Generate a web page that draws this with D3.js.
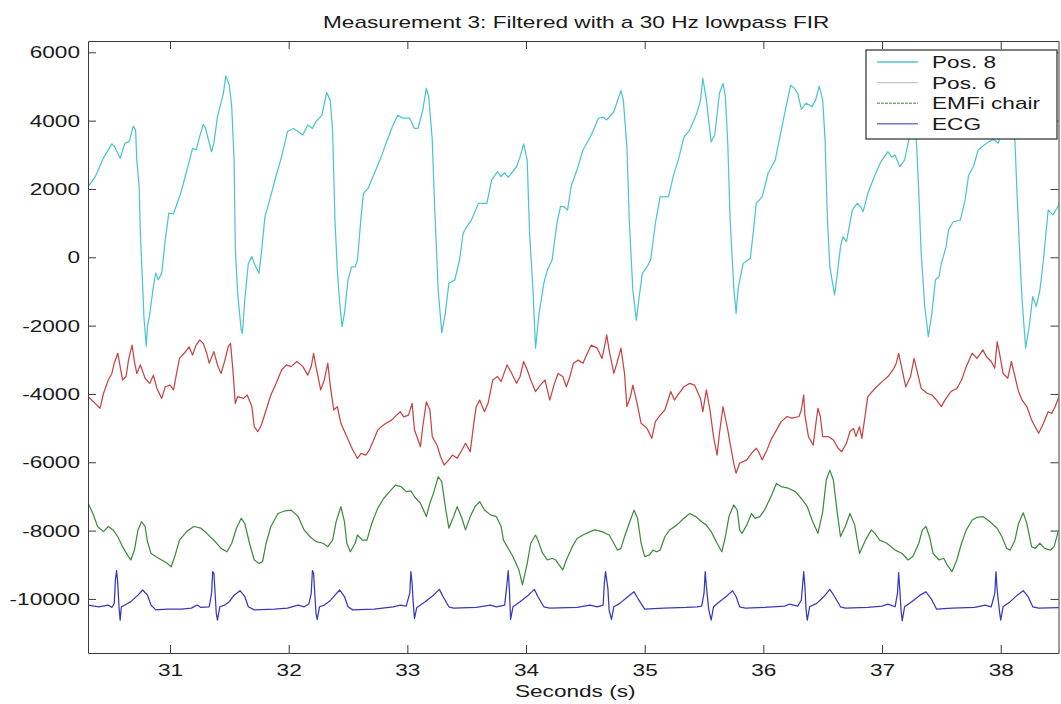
<!DOCTYPE html>
<html>
<head>
<meta charset="utf-8">
<script src="https://cdn.jsdelivr.net/npm/d3@7"></script>
<style>
  body { margin: 0; background: white; }
  svg { display: block; }
  text { font-family: "Liberation Sans", Arial, sans-serif; fill: #1a1a1a; }
</style>
</head>
<body>
<svg id="chart"></svg>
<script>

var xTicks = [31, 32, 33, 34, 35, 36, 37, 38];
var yTicks = [-10000, -8000, -6000, -4000, -2000, 0, 2000, 4000, 6000];
var seriesNames = ["Pos. 8", "Pos. 6", "EMFi chair", "ECG"];

var pos8 = [[30.31,2070],[30.37,2360],[30.44,2910],[30.51,3320],[30.53,3260],[30.58,2900],[30.62,3340],[30.65,3380],[30.66,3430],[30.69,3840],[30.71,3730],[30.72,2850],[30.74,2070],[30.75,710],[30.77,-860],[30.78,-1740],[30.80,-2600],[30.81,-2030],[30.83,-1640],[30.86,-860],[30.88,-460],[30.90,-660],[30.93,-470],[30.96,510],[30.99,1290],[31.03,1270],[31.06,1580],[31.09,1870],[31.15,2650],[31.19,3190],[31.22,3140],[31.25,3530],[31.28,3890],[31.30,3770],[31.35,3090],[31.37,3340],[31.40,4120],[31.45,4800],[31.47,5310],[31.50,5040],[31.52,4410],[31.54,2850],[31.55,310],[31.57,-1050],[31.60,-2130],[31.61,-2230],[31.63,-1250],[31.66,-180],[31.69,20],[31.71,-180],[31.75,-470],[31.77,120],[31.80,1190],[31.84,1680],[31.90,2460],[31.94,2940],[31.99,3680],[32.04,3770],[32.08,3680],[32.12,3580],[32.16,3870],[32.20,3770],[32.23,3970],[32.28,4160],[32.32,4820],[32.35,4600],[32.37,3730],[32.39,1090],[32.41,-370],[32.43,-1350],[32.45,-2030],[32.47,-1640],[32.50,-660],[32.53,-280],[32.56,-280],[32.58,-80],[32.61,1190],[32.63,1870],[32.67,2020],[32.71,2360],[32.78,2940],[32.82,3340],[32.88,3870],[32.92,4160],[32.96,4070],[33.02,4070],[33.06,3770],[33.09,3770],[33.13,4310],[33.16,4950],[33.18,4700],[33.21,3430],[33.23,1480],[33.26,-960],[33.29,-2210],[33.32,-1640],[33.35,-760],[33.40,-660],[33.44,-80],[33.47,700],[33.50,890],[33.54,1090],[33.60,1580],[33.67,1580],[33.71,2260],[33.76,2510],[33.79,2360],[33.82,2480],[33.85,2340],[33.92,2650],[33.95,2940],[33.98,3320],[34.01,2850],[34.03,700],[34.06,-1050],[34.08,-2660],[34.11,-1640],[34.15,-760],[34.18,-370],[34.22,-80],[34.26,990],[34.29,1480],[34.32,1480],[34.35,1380],[34.38,2070],[34.43,2560],[34.48,3140],[34.55,3580],[34.61,4070],[34.65,4100],[34.68,4020],[34.74,4260],[34.80,4880],[34.82,4600],[34.85,3240],[34.87,1090],[34.90,-960],[34.93,-1840],[34.95,-1250],[34.98,-470],[35.02,-280],[35.05,-80],[35.09,990],[35.13,1770],[35.20,1770],[35.24,2360],[35.29,2940],[35.33,3510],[35.38,3730],[35.44,4220],[35.47,4600],[35.49,5240],[35.52,4600],[35.56,3380],[35.59,3580],[35.63,4800],[35.66,5090],[35.68,4700],[35.70,3340],[35.72,1090],[35.75,-860],[35.77,-1640],[35.79,-860],[35.83,-180],[35.89,-30],[35.92,890],[35.94,1580],[35.99,1770],[36.04,2460],[36.10,2850],[36.14,3530],[36.18,4220],[36.23,5040],[36.26,4950],[36.29,4800],[36.32,4330],[36.36,4510],[36.41,4410],[36.44,4600],[36.47,5010],[36.50,4600],[36.52,3430],[36.54,1090],[36.56,-280],[36.60,-1100],[36.62,-570],[36.65,310],[36.67,600],[36.70,460],[36.75,1380],[36.79,1580],[36.82,1480],[36.84,1330],[36.88,1870],[36.94,2410],[36.99,2800],[37.05,3090],[37.08,2940],[37.11,2990],[37.15,2650],[37.19,2850],[37.22,3340],[37.25,3800],[37.27,4200],[37.29,3380],[37.31,1870],[37.33,120],[37.36,-1440],[37.39,-2320],[37.42,-1640],[37.45,-660],[37.48,-570],[37.50,-180],[37.54,310],[37.56,800],[37.60,1040],[37.66,1090],[37.70,1680],[37.73,2410],[37.77,2650],[37.81,3140],[37.85,3260],[37.90,3380],[37.94,3450],[37.98,3340],[38.01,3700],[38.05,4400],[38.10,3900],[38.12,3380],[38.14,1680],[38.16,120],[38.18,-1250],[38.21,-2660],[38.24,-2030],[38.27,-1150],[38.30,-1440],[38.33,-960],[38.36,-80],[38.40,1380],[38.44,1240],[38.48,1480],[38.51,1680]];

var pos6 = [[30.31,-4080],[30.37,-4275],[30.41,-4420],[30.44,-3980],[30.48,-3590],[30.51,-3400],[30.53,-3100],[30.56,-2810],[30.58,-3200],[30.60,-3590],[30.63,-3490],[30.65,-3010],[30.68,-2570],[30.70,-3050],[30.72,-3400],[30.75,-3150],[30.79,-3540],[30.83,-3690],[30.86,-3450],[30.89,-3840],[30.93,-4130],[30.96,-3790],[31.00,-3740],[31.03,-3880],[31.05,-3490],[31.08,-2960],[31.12,-2810],[31.16,-2620],[31.19,-2860],[31.22,-2570],[31.25,-2420],[31.28,-2520],[31.31,-2810],[31.33,-3100],[31.37,-2760],[31.40,-3150],[31.43,-3400],[31.46,-3050],[31.49,-2620],[31.51,-2520],[31.53,-3300],[31.55,-4275],[31.57,-4080],[31.62,-4130],[31.65,-4030],[31.69,-4370],[31.71,-4960],[31.74,-5100],[31.77,-4910],[31.81,-4470],[31.85,-4030],[31.90,-3640],[31.94,-3300],[31.98,-3150],[32.02,-3200],[32.07,-3050],[32.12,-3200],[32.16,-3450],[32.19,-3200],[32.21,-2810],[32.23,-3200],[32.27,-3880],[32.30,-3590],[32.33,-3100],[32.35,-3740],[32.38,-4470],[32.41,-4370],[32.44,-4860],[32.49,-5250],[32.54,-5640],[32.58,-5890],[32.61,-5740],[32.65,-5790],[32.68,-5640],[32.71,-5400],[32.75,-5060],[32.78,-4960],[32.82,-4860],[32.87,-4760],[32.91,-4620],[32.94,-4520],[32.97,-4670],[33.01,-4620],[33.04,-4275],[33.06,-5050],[33.11,-5540],[33.13,-4960],[33.16,-4230],[33.19,-4470],[33.21,-5250],[33.25,-5500],[33.28,-5840],[33.31,-6080],[33.35,-5930],[33.38,-5790],[33.42,-5880],[33.46,-5640],[33.49,-5445],[33.53,-5690],[33.56,-4860],[33.58,-4370],[33.61,-4180],[33.65,-4520],[33.68,-4275],[33.72,-3590],[33.76,-3490],[33.79,-3640],[33.84,-3150],[33.88,-3400],[33.92,-3690],[33.95,-3490],[33.98,-3050],[34.01,-3300],[34.04,-3590],[34.08,-3930],[34.12,-3740],[34.16,-3590],[34.20,-4180],[34.24,-3690],[34.27,-3400],[34.31,-3490],[34.34,-3790],[34.37,-3490],[34.40,-3100],[34.44,-3010],[34.48,-3100],[34.51,-2860],[34.55,-2570],[34.60,-2660],[34.64,-2960],[34.67,-2470],[34.68,-2270],[34.70,-2710],[34.74,-3400],[34.77,-3050],[34.80,-2660],[34.83,-3400],[34.85,-4370],[34.88,-4080],[34.90,-3740],[34.93,-4180],[34.97,-4860],[35.02,-5010],[35.06,-5300],[35.09,-4810],[35.13,-4620],[35.17,-4470],[35.22,-3930],[35.25,-4180],[35.28,-4030],[35.33,-3790],[35.38,-3690],[35.42,-3740],[35.47,-4130],[35.49,-4520],[35.52,-3880],[35.55,-4470],[35.58,-5250],[35.61,-5790],[35.63,-5150],[35.66,-4370],[35.70,-5050],[35.72,-5445],[35.75,-6030],[35.77,-6320],[35.80,-6030],[35.86,-5930],[35.90,-5740],[35.94,-5590],[35.96,-5690],[35.99,-5930],[36.03,-5640],[36.07,-5300],[36.11,-5060],[36.15,-4810],[36.20,-4660],[36.24,-4710],[36.30,-4660],[36.32,-4470],[36.34,-4030],[36.35,-4620],[36.38,-5250],[36.42,-5500],[36.45,-4660],[36.46,-4420],[36.48,-4660],[36.50,-5250],[36.55,-5250],[36.59,-5350],[36.63,-5590],[36.66,-5690],[36.70,-5445],[36.73,-5100],[36.76,-5010],[36.78,-5250],[36.81,-4960],[36.83,-5300],[36.86,-4570],[36.88,-4080],[36.94,-3840],[37.00,-3640],[37.05,-3490],[37.10,-3250],[37.12,-3100],[37.14,-2810],[37.17,-3300],[37.20,-3790],[37.24,-3490],[37.27,-2960],[37.30,-3400],[37.33,-3840],[37.38,-3980],[37.42,-4030],[37.46,-4180],[37.50,-4370],[37.53,-4180],[37.58,-3930],[37.63,-3840],[37.67,-3590],[37.71,-3200],[37.76,-2810],[37.80,-2960],[37.85,-2710],[37.88,-2910],[37.92,-3050],[37.95,-3250],[37.97,-2470],[37.99,-2810],[38.02,-3400],[38.06,-3540],[38.09,-3050],[38.12,-3490],[38.15,-3930],[38.18,-4180],[38.22,-4370],[38.26,-4760],[38.29,-4960],[38.32,-5150],[38.36,-4860],[38.40,-4520],[38.43,-4570],[38.46,-4370],[38.50,-3980]];

var emfi = [[30.31,-7200],[30.35,-7500],[30.39,-7880],[30.44,-8030],[30.48,-7880],[30.52,-7980],[30.56,-8180],[30.60,-8470],[30.65,-8760],[30.67,-8860],[30.70,-8570],[30.73,-7980],[30.76,-7740],[30.79,-7880],[30.81,-8320],[30.84,-8670],[30.88,-8760],[30.93,-8860],[30.97,-8940],[31.01,-9060],[31.04,-8760],[31.08,-8280],[31.14,-8030],[31.20,-7880],[31.26,-7930],[31.31,-8080],[31.38,-8320],[31.43,-8520],[31.48,-8620],[31.52,-8370],[31.56,-7930],[31.60,-7640],[31.63,-7790],[31.67,-8370],[31.71,-8860],[31.75,-8960],[31.78,-8910],[31.81,-8370],[31.85,-7880],[31.91,-7500],[31.97,-7420],[32.02,-7400],[32.08,-7590],[32.13,-7980],[32.18,-8180],[32.23,-8320],[32.29,-8370],[32.33,-8470],[32.37,-8280],[32.40,-7740],[32.44,-7300],[32.47,-7740],[32.49,-8370],[32.52,-8620],[32.56,-8370],[32.58,-8130],[32.62,-8280],[32.66,-8280],[32.70,-7790],[32.75,-7350],[32.80,-7060],[32.85,-6860],[32.90,-6670],[32.95,-6720],[32.99,-6860],[33.03,-6840],[33.06,-7010],[33.11,-7200],[33.16,-7590],[33.19,-7200],[33.22,-6910],[33.26,-6420],[33.29,-6570],[33.32,-7300],[33.35,-7930],[33.39,-7590],[33.42,-7300],[33.46,-7640],[33.49,-7980],[33.53,-7590],[33.57,-7300],[33.61,-7150],[33.65,-7400],[33.70,-7540],[33.75,-7590],[33.79,-7880],[33.81,-8280],[33.85,-8520],[33.89,-8760],[33.94,-9150],[33.97,-9590],[34.01,-8960],[34.04,-8370],[34.08,-8130],[34.10,-8280],[34.14,-8670],[34.18,-8860],[34.22,-8810],[34.25,-8860],[34.28,-9010],[34.31,-9150],[34.34,-8860],[34.39,-8470],[34.43,-8230],[34.48,-8130],[34.54,-8030],[34.58,-7980],[34.64,-8030],[34.70,-8130],[34.74,-8370],[34.77,-8570],[34.80,-8520],[34.83,-8180],[34.88,-7690],[34.91,-7400],[34.94,-7640],[34.97,-8370],[35.00,-8760],[35.04,-8710],[35.07,-8570],[35.10,-8620],[35.13,-8570],[35.17,-8180],[35.21,-7980],[35.27,-7840],[35.33,-7640],[35.38,-7500],[35.43,-7590],[35.48,-7740],[35.52,-7840],[35.56,-8030],[35.61,-8370],[35.65,-8620],[35.68,-8180],[35.71,-7590],[35.75,-7250],[35.78,-7400],[35.80,-7980],[35.82,-8080],[35.86,-7840],[35.90,-7500],[35.93,-7640],[35.97,-7590],[36.01,-7400],[36.07,-6960],[36.11,-6620],[36.15,-6710],[36.21,-6760],[36.27,-6860],[36.32,-7060],[36.37,-7300],[36.41,-7690],[36.46,-8080],[36.50,-7450],[36.53,-6520],[36.56,-6230],[36.59,-6520],[36.62,-7400],[36.65,-8180],[36.69,-7880],[36.73,-7500],[36.77,-7840],[36.81,-8670],[36.86,-8280],[36.91,-7980],[36.94,-8080],[36.98,-8280],[37.04,-8370],[37.11,-8570],[37.17,-8670],[37.22,-8860],[37.26,-8760],[37.31,-8370],[37.34,-7980],[37.37,-7880],[37.40,-8180],[37.43,-8670],[37.48,-8860],[37.52,-8810],[37.55,-9010],[37.59,-9200],[37.63,-8860],[37.67,-8370],[37.71,-7980],[37.76,-7690],[37.80,-7610],[37.85,-7590],[37.91,-7740],[37.97,-7930],[38.01,-8180],[38.05,-8520],[38.08,-8570],[38.12,-8280],[38.15,-7790],[38.19,-7480],[38.22,-7790],[38.26,-8470],[38.29,-8520],[38.33,-8370],[38.37,-8520],[38.42,-8570],[38.45,-8470],[38.48,-8080],[38.51,-7880]];

var ecg = [[30.31,-10180],[30.40,-10230],[30.48,-10180],[30.51,-10250],[30.53,-10130],[30.54,-9450],[30.55,-9170],[30.56,-9540],[30.57,-10230],[30.58,-10620],[30.59,-10230],[30.62,-10180],[30.67,-10080],[30.73,-9890],[30.77,-9740],[30.81,-9890],[30.84,-10180],[30.88,-10320],[30.98,-10300],[31.10,-10300],[31.18,-10270],[31.23,-10180],[31.26,-10250],[31.33,-10230],[31.35,-9840],[31.36,-9200],[31.37,-9250],[31.38,-9840],[31.39,-10420],[31.40,-10620],[31.42,-10230],[31.46,-10180],[31.50,-10080],[31.54,-9890],[31.59,-9760],[31.63,-9930],[31.66,-10230],[31.71,-10320],[31.88,-10300],[31.99,-10270],[32.08,-10180],[32.13,-10230],[32.17,-10150],[32.19,-9840],[32.20,-9170],[32.21,-9250],[32.22,-9840],[32.23,-10420],[32.24,-10600],[32.26,-10230],[32.30,-10180],[32.35,-10050],[32.39,-9890],[32.43,-9740],[32.47,-9930],[32.50,-10230],[32.54,-10320],[32.72,-10300],[32.88,-10230],[32.94,-10180],[32.99,-10210],[33.02,-9840],[33.03,-9200],[33.04,-9540],[33.05,-10130],[33.06,-10570],[33.08,-10250],[33.15,-10080],[33.22,-9890],[33.27,-9720],[33.30,-9930],[33.35,-10230],[33.39,-10270],[33.58,-10250],[33.70,-10180],[33.75,-10230],[33.82,-10180],[33.84,-9540],[33.85,-9170],[33.86,-9740],[33.87,-10600],[33.89,-10230],[33.95,-10080],[34.02,-9890],[34.07,-9720],[34.10,-9930],[34.15,-10230],[34.20,-10270],[34.43,-10250],[34.54,-10180],[34.60,-10230],[34.65,-10180],[34.66,-9540],[34.67,-9200],[34.69,-9700],[34.70,-10320],[34.72,-10600],[34.74,-10230],[34.79,-10130],[34.86,-9930],[34.91,-9790],[34.95,-10030],[35.00,-10300],[35.16,-10270],[35.35,-10250],[35.44,-10230],[35.48,-10210],[35.50,-9840],[35.51,-9200],[35.52,-9640],[35.54,-10320],[35.56,-10620],[35.58,-10230],[35.63,-10080],[35.70,-9890],[35.74,-9760],[35.77,-9930],[35.80,-10230],[35.85,-10270],[36.01,-10250],[36.18,-10210],[36.22,-10150],[36.29,-10210],[36.32,-10030],[36.34,-9200],[36.35,-9640],[36.36,-10320],[36.37,-10620],[36.39,-10230],[36.45,-10130],[36.51,-9930],[36.56,-9720],[36.60,-9930],[36.65,-10230],[36.69,-10270],[36.88,-10250],[37.00,-10210],[37.05,-10150],[37.11,-10230],[37.13,-9840],[37.14,-9230],[37.15,-9740],[37.16,-10320],[37.17,-10640],[37.19,-10230],[37.25,-10080],[37.32,-9890],[37.37,-9790],[37.42,-10030],[37.46,-10300],[37.59,-10270],[37.78,-10250],[37.87,-10180],[37.92,-10230],[37.95,-9840],[37.96,-9200],[37.97,-9740],[37.99,-10370],[38.00,-10620],[38.02,-10230],[38.08,-10080],[38.14,-9890],[38.19,-9760],[38.23,-9930],[38.27,-10230],[38.32,-10270],[38.51,-10250]];

var dimensions = {
    width: 1061,
    height: 704,
    margin: { top: 41, bottom: 51, left: 88, right: 2.5 }
};

var svg = d3.select("#chart")
    .attr("width", dimensions.width)
    .attr("height", dimensions.height);

var x0 = dimensions.margin.left;
var x1 = dimensions.width - dimensions.margin.right;
var y0 = dimensions.margin.top;
var y1 = dimensions.height - dimensions.margin.bottom;

var xScale = d3.scaleLinear()
    .domain([30.309, 38.487])
    .range([x0, x1]);

var yScale = d3.scaleLinear()
    .domain([-11583, 6331])
    .range([y1, y0]);

// stretch text horizontally, the original figure is wider than normal type
var wide = 1.33;
function stretch(sel) {
    sel.each(function () {
        var len = this.getComputedTextLength();
        this.setAttribute("textLength", len * wide);
        this.setAttribute("lengthAdjust", "spacingAndGlyphs");
    });
}

var traces = [
    { name: seriesNames[0], data: pos8, color: "#4cc6cc" },
    { name: seriesNames[1], data: pos6, color: "#c84444" },
    { name: seriesNames[2], data: emfi, color: "#3f8c3f" },
    { name: seriesNames[3], data: ecg, color: "#3838bc" }
];

var line = d3.line()
    .x(d => xScale(d[0]))
    .y(d => yScale(d[1]));

svg.append("clipPath").attr("id", "plot-clip")
    .append("rect")
    .attr("x", x0).attr("y", y0)
    .attr("width", x1 - x0).attr("height", y1 - y0);

svg.append("g")
    .attr("clip-path", "url(#plot-clip)")
    .selectAll(".trace")
    .data(traces)
    .enter()
    .append("path")
    .attr("class", "trace")
    .attr("d", d => line(d.data))
    .style("stroke", d => d.color)
    .style("stroke-width", 1.25)
    .style("stroke-linejoin", "round")
    .style("fill", "none");

// axes, box style with inward ticks
function styleAxis(g) {
    g.selectAll("path, line").attr("stroke", "#3a3a3a");
    g.selectAll("text")
        .style("font-family", "Liberation Sans, Arial, sans-serif")
        .style("font-size", "17px")
        .attr("fill", "#1a1a1a");
}

svg.append("g")
    .attr("transform", `translate(0,${y1})`)
    .call(d3.axisBottom(xScale).tickValues(xTicks).tickSizeInner(-8).tickSizeOuter(0).tickPadding(11))
    .call(styleAxis)
    .call(g => g.selectAll("text").call(stretch));

svg.append("g")
    .attr("transform", `translate(0,${y0})`)
    .call(d3.axisTop(xScale).tickValues(xTicks).tickSizeInner(-8).tickSizeOuter(0).tickFormat(""))
    .call(styleAxis);

// plain hyphen for negatives, as in the original
svg.append("g")
    .attr("transform", `translate(${x0},0)`)
    .call(d3.axisLeft(yScale).tickValues(yTicks).tickSizeInner(-8).tickSizeOuter(0).tickPadding(8).tickFormat(d => String(d)))
    .call(styleAxis)
    .call(g => g.selectAll("text").call(stretch));

svg.append("g")
    .attr("transform", `translate(${x1},0)`)
    .call(d3.axisRight(yScale).tickValues(yTicks).tickSizeInner(-8).tickSizeOuter(0).tickFormat(""))
    .call(styleAxis);

// title and x label
svg.append("text")
    .attr("x", (x0 + x1) / 2 + 3)
    .attr("y", 28)
    .attr("text-anchor", "middle")
    .style("font-size", "17px")
    .text("Measurement 3: Filtered with a 30 Hz lowpass FIR")
    .call(stretch);

svg.append("text")
    .attr("x", (x0 + x1) / 2 + 2)
    .attr("y", 697)
    .attr("text-anchor", "middle")
    .style("font-size", "17px")
    .text("Seconds (s)")
    .call(stretch);

// legend
var legendColors = ["#50c6cc", "#c8c8c8", "#7fa87f", "#7878d4"];

var legend = svg.append("g")
    .attr("transform", "translate(866,50)");

legend.append("rect")
    .attr("width", 191)
    .attr("height", 89)
    .attr("fill", "white")
    .attr("stroke", "#2a2a2a")
    .attr("stroke-width", 1.2);

var item = legend.selectAll(".legend")
    .data(seriesNames)
    .enter()
    .append("g")
    .attr("class", "legend")
    .attr("transform", (d, i) => `translate(0,${12 + i * 20.6})`);

item.append("line")
    .attr("x1", 11)
    .attr("x2", 52)
    .attr("stroke", (d, i) => legendColors[i])
    .attr("stroke-width", 1.4)
    .attr("stroke-dasharray", (d, i) => i == 2 ? "3,1" : null);

item.append("text")
    .attr("x", 66)
    .attr("y", 6)
    .style("font-size", "17px")
    .text(d => d)
    .call(stretch);
</script>
</body>
</html>
